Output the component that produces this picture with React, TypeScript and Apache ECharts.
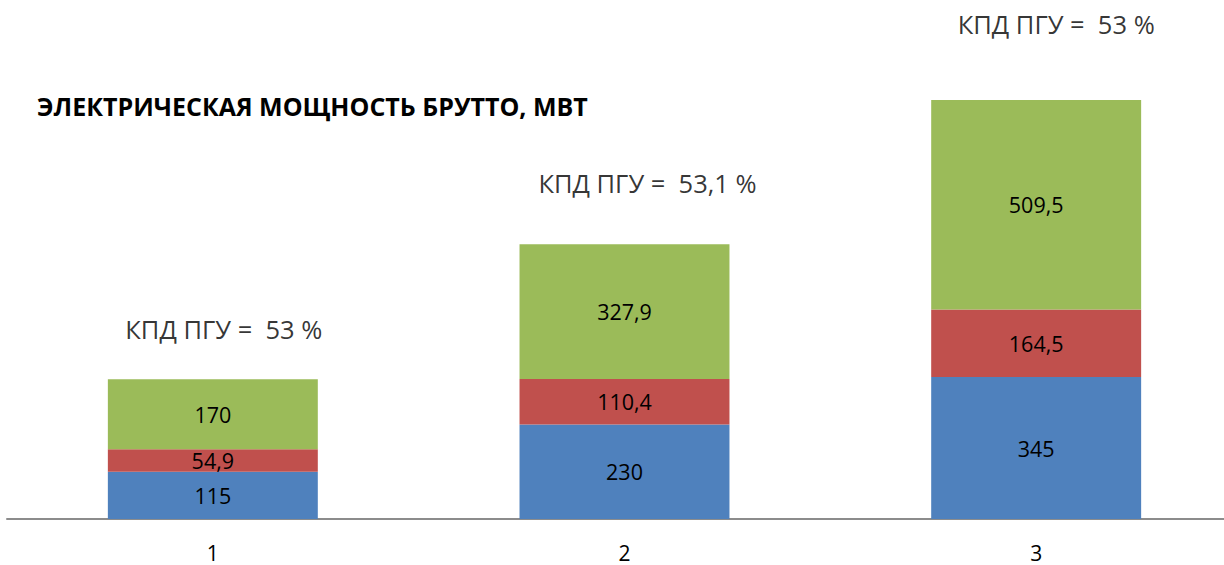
import React, { useEffect, useRef } from "react";
import * as echarts from "echarts";

const categories = ["1", "2", "3"];
const blueValues = [115, 230, 345];
const redValues = [54.9, 110.4, 164.5];
const greenValues = [170, 327.9, 509.5];
const efficiencyLabels = ["КПД ПГУ =  53 %", "КПД ПГУ =  53,1 %", "КПД ПГУ =  53 %"];
const titleText = "ЭЛЕКТРИЧЕСКАЯ МОЩНОСТЬ БРУТТО, МВТ";

const FONT = "'Open Sans', 'Liberation Sans', sans-serif";
const labelOffsets = [[11, -50], [23, -61], [20, -76]];

const fmt = (v: number) => String(v).replace(".", ",");

export default function App() {
  const ref = useRef<HTMLDivElement>(null);
  useEffect(() => {
    document.body.style.margin = "0";
    const chart = echarts.init(ref.current!, null, { renderer: "svg" });
    const totals = categories.map((_, i) => blueValues[i] + redValues[i] + greenValues[i]);
    const barLabel = {
      show: true,
      position: "inside",
      color: "#000",
      fontSize: 21.5,
      fontFamily: FONT,
      formatter: (p: any) => fmt(p.value),
    };
    chart.setOption({
      animation: false,
      backgroundColor: "#fff",
      title: {
        text: titleText,
        left: 32,
        top: 88,
        textStyle: { fontFamily: FONT, fontWeight: "bold", fontSize: 25, color: "#000" },
      },
      grid: { left: 7, width: 1235, top: 0, bottom: 46, outerBoundsMode: "none", containLabel: false },
      xAxis: {
        type: "category",
        data: categories,
        axisLine: { lineStyle: { color: "#8c8c8c", width: 2 } },
        axisTick: { show: false },
        axisLabel: { color: "#000", fontSize: 21, lineHeight: 21, fontFamily: FONT, margin: 23 },
      },
      yAxis: { type: "value", min: 0, max: 1262, show: false, splitLine: { show: false } },
      series: [
        { type: "bar", stack: "s", data: blueValues, barWidth: "51%", itemStyle: { color: "#4F81BD" }, label: barLabel },
        { type: "bar", stack: "s", data: redValues, barWidth: "51%", itemStyle: { color: "#C0504D" }, label: barLabel },
        { type: "bar", stack: "s", data: greenValues, barWidth: "51%", itemStyle: { color: "#9BBB59" }, label: barLabel },
        {
          type: "scatter",
          symbolSize: 0,
          silent: true,
          data: totals.map((t, i) => ({
            value: [categories[i], t],
            label: {
              show: true,
              position: "inside",
              offset: labelOffsets[i],
              formatter: efficiencyLabels[i],
              color: "#000",
              fontSize: 25.5,
              fontFamily: FONT,
            },
          })),
        },
      ],
    });
    return () => chart.dispose();
  }, []);
  return <div ref={ref} style={{ width: 1224, height: 565 }} />;
}
